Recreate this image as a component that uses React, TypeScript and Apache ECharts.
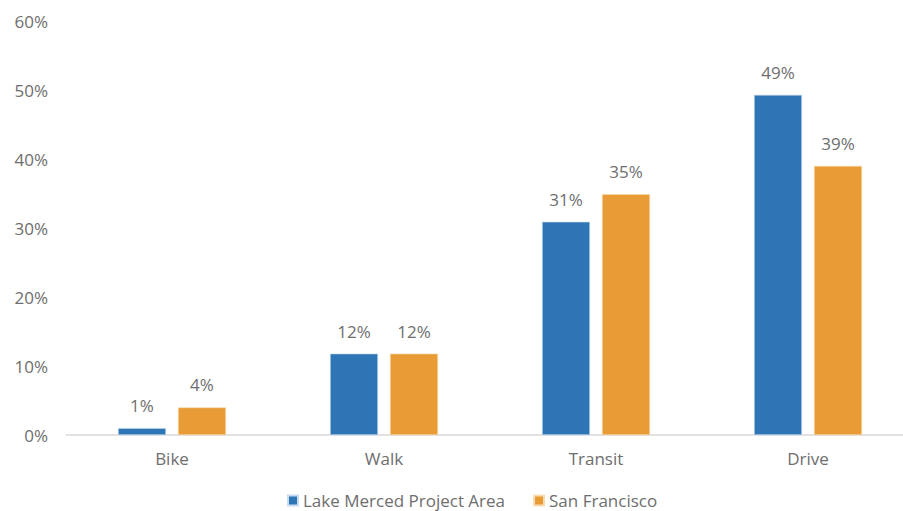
import React, { useEffect, useRef } from "react";
import * as echarts from "echarts";

const categories = ["Bike", "Walk", "Transit", "Drive"];
const lakeMerced = [1.0, 11.8, 30.9, 49.3];
const sanFrancisco = [4.0, 11.8, 34.9, 39.0];
const seriesNames = ["Lake Merced Project Area", "San Francisco"];
const yTicks = [0, 10, 20, 30, 40, 50, 60];

const FONT = "'Open Sans', sans-serif";
const TEXT = "#6e6e6e";
const FS = 17;

export default function App() {
  const ref = useRef<HTMLDivElement>(null);
  useEffect(() => {
    const chart = echarts.init(ref.current!, null, { renderer: "svg" });
    const label = {
      show: true,
      position: "top" as const,
      distance: 14,
      color: TEXT,
      fontFamily: FONT,
      fontSize: FS,
      formatter: (p: any) => Math.round(p.value) + "%",
    };
    chart.setOption({
      animation: false,
      grid: { left: 66, right: 0, top: 21, bottom: 76 },
      legend: {
        bottom: -3,
        left: 282,
        itemWidth: 10,
        itemHeight: 10,
        itemGap: 28,
        icon: "rect",
        textStyle: { color: TEXT, fontFamily: FONT, fontSize: FS },
        data: seriesNames,
      },
      xAxis: {
        type: "category",
        data: categories,
        axisLine: { lineStyle: { color: "#d9d9d9", width: 1.5 } },
        axisTick: { show: false },
        axisLabel: { color: TEXT, fontFamily: FONT, fontSize: FS, margin: 15 },
      },
      yAxis: {
        type: "value",
        min: yTicks[0],
        max: yTicks[yTicks.length - 1],
        interval: 10,
        splitLine: { show: false },
        axisLine: { show: false },
        axisTick: { show: false },
        axisLabel: {
          color: TEXT,
          fontFamily: FONT,
          fontSize: FS,
          margin: 18,
          formatter: (v: number) => v + "%",
        },
      },
      series: [
        {
          name: seriesNames[0],
          type: "bar",
          data: lakeMerced,
          barWidth: 48,
          barGap: "25%",
          itemStyle: { color: "#2E75B6", borderColor: "#c9dcef", borderWidth: 0.6 },
          label,
        },
        {
          name: seriesNames[1],
          type: "bar",
          data: sanFrancisco,
          barWidth: 48,
          itemStyle: { color: "#E99C35", borderColor: "#f7dcb5", borderWidth: 0.6 },
          label,
        },
      ],
    });
    return () => chart.dispose();
  }, []);
  return (
    <div
      style={{ position: "fixed", left: 0, top: 0, width: 903, height: 511, overflow: "hidden", background: "#fff" }}
    >
      <div ref={ref} style={{ width: 914, height: 511 }} />
    </div>
  );
}
